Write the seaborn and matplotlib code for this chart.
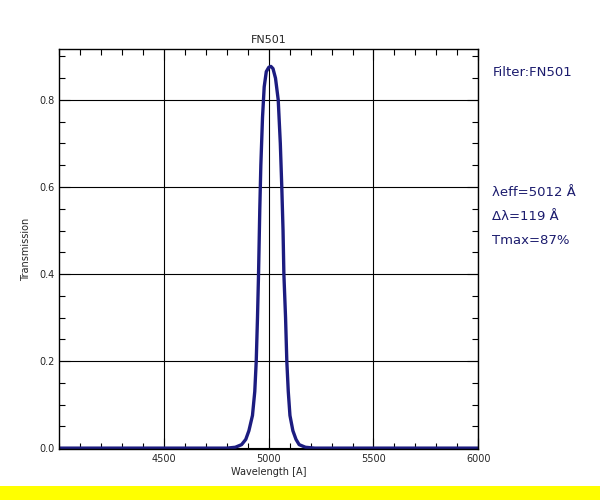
import matplotlib
matplotlib.use("Agg")
import matplotlib.pyplot as plt
import seaborn as sns
import pandas as pd
from matplotlib.patches import Rectangle
from matplotlib.ticker import MultipleLocator

wavelength = [4000, 4800, 4840, 4870, 4890, 4905, 4922, 4933, 4940, 4946, 4951,
              4957, 4962, 4970, 4978, 4988, 5000, 5010, 5020, 5032, 5045, 5055,
              5062, 5068, 5072, 5080, 5086, 5093, 5101, 5115, 5130, 5145, 5175,
              5220, 6000]
transmission = [0.0, 0.0, 0.002, 0.008, 0.02, 0.04, 0.075, 0.13, 0.2, 0.3, 0.4,
                0.55, 0.65, 0.76, 0.83, 0.865, 0.875, 0.877, 0.872, 0.85, 0.80, 0.70,
                0.60, 0.50, 0.40, 0.30, 0.20, 0.13, 0.075, 0.04, 0.02, 0.008, 0.002,
                0.0, 0.0]
x_ticks = [4500, 5000, 5500, 6000]
y_ticks = [0.0, 0.2, 0.4, 0.6, 0.8]
title = "FN501"
info_lines = ["λeff=5012 Å", "Δλ=119 Å", "Tmax=87%"]

df = pd.DataFrame({"Wavelength": wavelength, "Transmission": transmission})

sns.set_style("white")
plt.rcParams['font.family'] = ['DejaVu Sans']
plt.rcParams['xtick.direction'] = 'in'
plt.rcParams['ytick.direction'] = 'in'
plt.rcParams['xtick.top'] = True
plt.rcParams['ytick.right'] = True

fig = plt.figure(figsize=(6, 5), dpi=100)
ax = fig.add_axes([0.099, 0.102, 0.698, 0.8])

ax.grid(True, which="major", color="black", linewidth=0.8)
ax.set_axisbelow(True)
sns.lineplot(data=df, x="Wavelength", y="Transmission", ax=ax,
             color="#1c1c80", linewidth=2.4, sort=False)

ax.set_xlim(4000, 6000)
ax.set_ylim(-0.002, 0.917)
ax.set_xticks(x_ticks)
ax.set_yticks(y_ticks)
ax.set_yticklabels([f"{v:.1f}" for v in y_ticks])
ax.xaxis.set_minor_locator(MultipleLocator(100))
ax.yaxis.set_minor_locator(MultipleLocator(0.05))
ax.tick_params(which="both", direction="in", top=True, right=True,
               bottom=True, left=True, color="black", labelsize=7)
ax.tick_params(which="major", length=8, width=0.8)
ax.tick_params(which="minor", length=4, width=0.8)
for s in ax.spines.values():
    s.set_color("black")
    s.set_linewidth(1.0)

ax.set_xlabel("Wavelength [A]", fontsize=7, labelpad=2)
ax.set_ylabel("Transmission", fontsize=7, labelpad=6)
ax.set_title(title, fontsize=8, pad=4)

fig.text(0.822, 0.856, "Filter:" + title, fontsize=9.5, color="#1c1c6e",
         va="center", ha="left")
for i, t in enumerate(info_lines):
    fig.text(0.82, 0.614 - i * 0.048, t, fontsize=9.5, color="#1c1c6e",
             va="center", ha="left")

fig.patches.append(Rectangle((0, 0), 1, 0.028, transform=fig.transFigure,
                             facecolor="#ffff00", edgecolor="none", zorder=-1))

fig.savefig("out.png", dpi=100)
